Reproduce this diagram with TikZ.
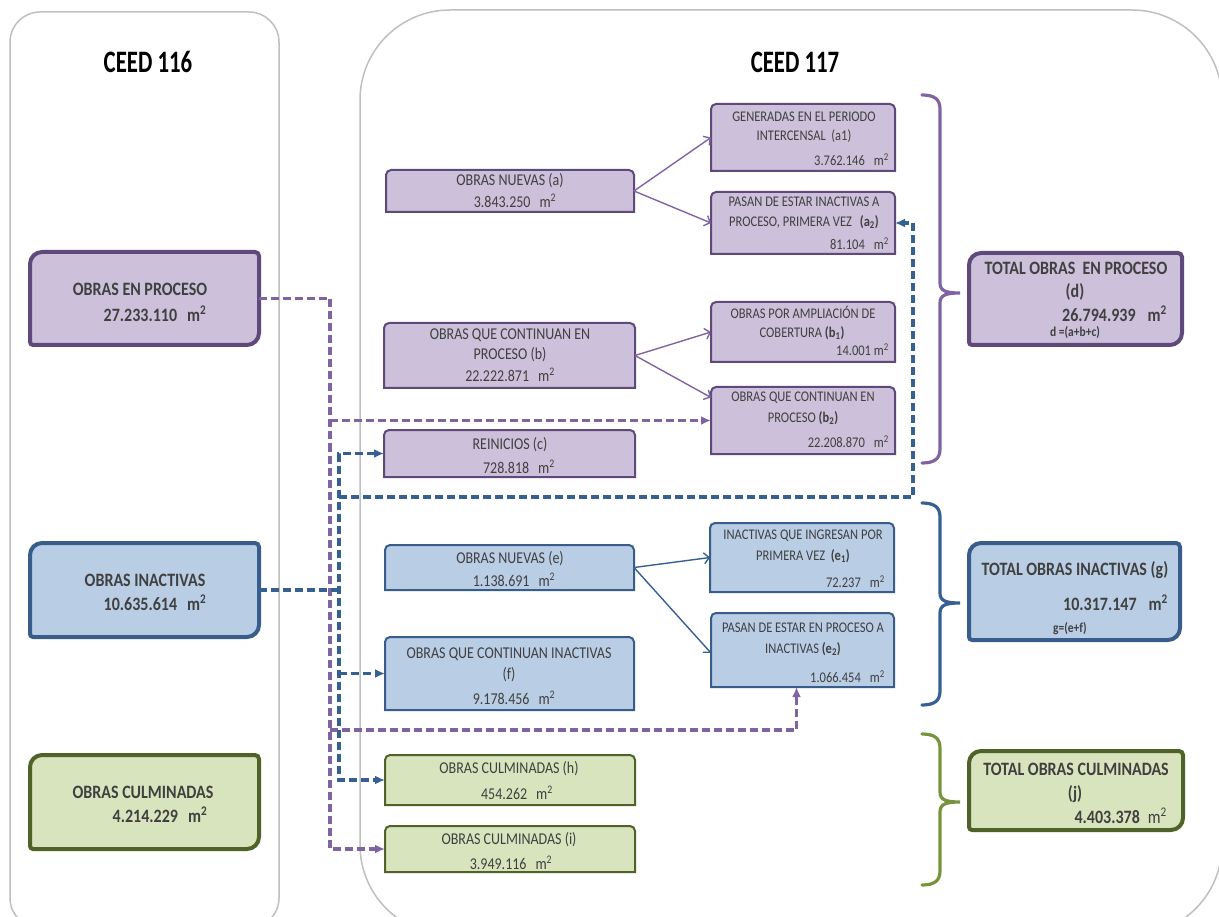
\documentclass[tikz,border=0pt]{standalone}
\usepackage{fontspec}
\setmainfont{Carlito}
\usetikzlibrary{arrows.meta,calc}
\definecolor{pfill}{HTML}{CCC0DA}
\definecolor{pline}{HTML}{5F497A}
\definecolor{pdash}{HTML}{8064A2}
\definecolor{bfill}{HTML}{B9CDE5}
\definecolor{bline}{HTML}{385D8A}
\definecolor{bdash}{HTML}{376092}
\definecolor{gfill}{HTML}{D7E4BD}
\definecolor{gline}{HTML}{4F6228}
\definecolor{gbrace}{HTML}{77933C}
\definecolor{panelc}{HTML}{BFBFBF}
\definecolor{txtc}{HTML}{404040}
\newcommand{\rbox}[6]{%
 \path[#6] let \p1=(#1.north west), \p2=(#1.south east) in
 (\x1+#2,\y1) -- (\x2-#3,\y1)
 .. controls (\x2-0.45*#3,\y1) and (\x2,\y1-0.45*#3) .. (\x2,\y1-#3)
 -- (\x2,\y2+#4)
 .. controls (\x2,\y2+0.45*#4) and (\x2-0.45*#4,\y2) .. (\x2-#4,\y2)
 -- (\x1+#5,\y2)
 .. controls (\x1+0.45*#5,\y2) and (\x1,\y2+0.45*#5) .. (\x1,\y2+#5)
 -- (\x1,\y1-#2)
 .. controls (\x1,\y1-0.45*#2) and (\x1+0.45*#2,\y1) .. (\x1+#2,\y1) -- cycle;}
\newcommand{\mybrace}[4]{%
 \draw[#4, line width=3.2pt, line cap=round] (922,#1) .. controls (934,#1) and (940,{#1+4}) .. (940,{#1+14})
 -- (940,{#2-10}) .. controls (940,{#2-2}) and (946,#2) .. (960,#2)
 .. controls (946,#2) and (940,{#2+2}) .. (940,{#2+10})
 -- (940,{#3-14}) .. controls (940,{#3-4}) and (934,#3) .. (922,#3);}
\newcommand{\msq}{m\textsuperscript{2}}
\newcommand{\vst}[1]{\scalebox{1}[1.18]{#1}}
\newcommand{\vtt}[1]{\scalebox{0.95}[1.3]{#1}}
\begin{document}
\begin{tikzpicture}[x=1pt,y=-1pt,
  slot/.style={draw=none, inner sep=0pt, outer sep=0pt},
  bigP/.style={fill=pfill, draw=pline, line width=4pt},
  bigB/.style={fill=bfill, draw=bline, line width=4pt},
  bigG/.style={fill=gfill, draw=gline, line width=4pt},
  midP/.style={fill=pfill, draw=pline, line width=2pt},
  midB/.style={fill=bfill, draw=bline, line width=2pt},
  midG/.style={fill=gfill, draw=gline, line width=2pt},
  txt/.style={inner sep=0pt, text=txtc},
  fT/.style={font=\fontsize{24}{28}\selectfont\bfseries, text=black},
  fB/.style={font=\fontsize{16}{19}\selectfont\bfseries},
  fS/.style={font=\fontsize{11.5}{13}\selectfont\bfseries},
  fM/.style={font=\fontsize{14}{16}\selectfont},
  fR/.style={font=\fontsize{12.5}{15}\selectfont},
  dashP/.style={draw=pdash, line width=3.2pt, dash pattern=on 8pt off 4pt},
  dashB/.style={draw=bdash, line width=3.2pt, dash pattern=on 8pt off 4pt},
  tipD/.tip={Latex[length=10pt,width=9pt]},
  solP/.style={draw=pdash, line width=1.4pt, -{Straight Barb[length=5pt,width=11pt]}},
  solB/.style={draw=bdash, line width=1.4pt, -{Straight Barb[length=5pt,width=11pt]}}
]
\useasboundingbox (0,0) rectangle (1219,917);
% panels
\begin{scope}
\clip (0,0) rectangle (1219,917);
\draw[panelc, line width=1.5pt, rounded corners=30pt] (10,12) rectangle (279,928);
\draw[panelc, line width=1.5pt, rounded corners=90pt] (360,10) rectangle (1222,935);
\end{scope}
\node[txt,fT] (t116) at (148,62) {\vtt{CEED 116}};
\node[txt,fT] (t117) at (795,62) {\vtt{CEED 117}};
% box slots
\node[slot, minimum width=229pt, minimum height=93pt] (ep) at (144.5,298.5) {};
\node[slot, minimum width=229pt, minimum height=94pt] (ei) at (144.5,590) {};
\node[slot, minimum width=229pt, minimum height=94pt] (oc) at (144.5,802) {};
\node[slot, minimum width=248pt, minimum height=42pt] (a) at (510,191) {};
\node[slot, minimum width=184pt, minimum height=67pt] (a1) at (803,137.5) {};
\node[slot, minimum width=184pt, minimum height=62pt] (a2) at (803,223) {};
\node[slot, minimum width=251pt, minimum height=65pt] (b) at (509.5,355.5) {};
\node[slot, minimum width=184pt, minimum height=60pt] (b1) at (803,332) {};
\node[slot, minimum width=184pt, minimum height=67pt] (b2) at (803,420.5) {};
\node[slot, minimum width=251pt, minimum height=47pt] (c) at (509.5,453.5) {};
\node[slot, minimum width=249pt, minimum height=45pt] (e) at (509.5,567.5) {};
\node[slot, minimum width=184pt, minimum height=69pt] (e1) at (802,557.5) {};
\node[slot, minimum width=183pt, minimum height=74pt] (e2) at (802.5,650) {};
\node[slot, minimum width=249pt, minimum height=73pt] (f) at (509.5,673.5) {};
\node[slot, minimum width=250pt, minimum height=50pt] (h) at (510,780) {};
\node[slot, minimum width=250pt, minimum height=46pt] (i) at (510,849) {};
\node[slot, minimum width=213pt, minimum height=92pt] (d) at (1075.5,299) {};
\node[slot, minimum width=211pt, minimum height=97pt] (g) at (1074.5,591.5) {};
\node[slot, minimum width=214pt, minimum height=79pt] (j) at (1076,790.5) {};
% box outlines
\rbox{ep}{12pt}{4pt}{12pt}{3pt}{bigP}
\rbox{ei}{12pt}{4pt}{12pt}{3pt}{bigB}
\rbox{oc}{12pt}{4pt}{12pt}{3pt}{bigG}
\rbox{d}{12pt}{4pt}{12pt}{3pt}{bigP}
\rbox{g}{12pt}{4pt}{12pt}{3pt}{bigB}
\rbox{j}{12pt}{4pt}{12pt}{3pt}{bigG}
\rbox{a}{5pt}{5pt}{0pt}{0pt}{midP}
\rbox{a1}{5pt}{5pt}{0pt}{0pt}{midP}
\rbox{a2}{5pt}{5pt}{0pt}{0pt}{midP}
\rbox{b}{5pt}{5pt}{0pt}{0pt}{midP}
\rbox{b1}{5pt}{5pt}{0pt}{0pt}{midP}
\rbox{b2}{5pt}{5pt}{0pt}{0pt}{midP}
\rbox{c}{5pt}{5pt}{0pt}{0pt}{midP}
\rbox{e}{5pt}{5pt}{0pt}{0pt}{midB}
\rbox{e1}{5pt}{5pt}{0pt}{0pt}{midB}
\rbox{e2}{5pt}{5pt}{0pt}{0pt}{midB}
\rbox{f}{5pt}{5pt}{0pt}{0pt}{midB}
\rbox{h}{5pt}{5pt}{0pt}{0pt}{midG}
\rbox{i}{5pt}{5pt}{0pt}{0pt}{midG}
% junction coordinates
\coordinate (jP) at (330,0);
\coordinate (jB) at (339,0);
\coordinate (kP) at (330,730);
\coordinate (qB) at (913,497);
% dashed connectors
\draw[dashP,-tipD] (ep.east) -| (jP |- i.west) -- (i.west);
\draw[dashP,-tipD] (jP |- b2.west) -- (b2.west);
\draw[dashP,-tipD] (kP) -| ([xshift=-6pt]e2.south);
\draw[dashB] (ei.east) -- (ei.east -| jB);
\draw[dashB,tipD-tipD] (c.west) -| (jB |- h.west) -- (h.west);
\draw[dashB,-tipD] (jB |- f.west) -- (f.west);
\draw[dashB,-tipD] (jB |- qB) -- (qB) |- (a2.east);
% solid arrows
\draw[solP] (a.east) -- (a1.west);
\draw[solP] (a.east) -- (a2.west);
\draw[solP] (b.east) -- (b1.west);
\draw[solP] (b.east) -- ([yshift=23pt]b2.west);
\draw[solB] (e.east) -- (e1.west);
\draw[solB] (e.east) -- ([yshift=-3pt]e2.west);
% braces
\mybrace{95}{293}{463}{pdash}
\mybrace{503}{603}{705}{bdash}
\mybrace{734}{802}{885}{gbrace}
% texts
\node[txt,fB] (ep-1) at (140,289) {\vst{OBRAS EN PROCESO}};
\node[txt,fB] (ep-2) at (155,314) {\vst{27.233.110\hspace{10pt}\msq}};
\node[txt,fB] (ei-1) at (145,580) {\vst{OBRAS INACTIVAS}};
\node[txt,fB] (ei-2) at (155,603) {\vst{10.635.614\hspace{10pt}\msq}};
\node[txt,fB] (oc-1) at (143,792) {\vst{OBRAS CULMINADAS}};
\node[txt,fB] (oc-2) at (160,815) {\vst{4.214.229\hspace{10pt}\msq}};
\node[txt,fM] (a-1) at (510,181) {\vst{OBRAS NUEVAS (a)}};
\node[txt,fM] (a-2) at (515,201) {\vst{3.843.250\hspace{9pt}\msq}};
\node[txt,fR] (a1-1) at (804,117) {\vst{GENERADAS EN EL PERIODO}};
\node[txt,fR] (a1-2) at (804,136) {\vst{INTERCENSAL\ \ (a1)}};
\node[txt,fR,anchor=east] (a1-3) at (889,160) {\vst{3.762.146\hspace{9pt}\msq}};
\node[txt,fR] (a2-1) at (804,202) {\vst{PASAN DE ESTAR INACTIVAS A}};
\node[txt,fR] (a2-2) at (804,222) {\vst{PROCESO, PRIMERA VEZ\hspace{8pt}\textbf{(a\textsubscript{2})}}};
\node[txt,fR,anchor=east] (a2-3) at (889,244) {\vst{81.104\hspace{9pt}\msq}};
\node[txt,fM] (b-1) at (510,335) {\vst{OBRAS QUE CONTINUAN EN}};
\node[txt,fM] (b-2) at (510,355) {\vst{PROCESO (b)}};
\node[txt,fM] (b-3) at (510,375) {\vst{22.222.871\hspace{9pt}\msq}};
\node[txt,fR] (b1-1) at (803,312) {\vst{OBRAS POR AMPLIACIÓN DE}};
\node[txt,fR] (b1-2) at (802,333) {\vst{COBERTURA \textbf{(b\textsubscript{1})}}};
\node[txt,fR,anchor=east] (b1-3) at (889,350) {\vst{14.001 \msq}};
\node[txt,fR] (b2-1) at (803,398) {\vst{OBRAS QUE CONTINUAN EN}};
\node[txt,fR] (b2-2) at (803,418) {\vst{PROCESO \textbf{(b\textsubscript{2})}}};
\node[txt,fR,anchor=east] (b2-3) at (889,442) {\vst{22.208.870\hspace{9pt}\msq}};
\node[txt,fM] (c-1) at (510,445) {\vst{REINICIOS (c)}};
\node[txt,fM] (c-2) at (519,467) {\vst{728.818\hspace{9pt}\msq}};
\node[txt,fM] (e-1) at (510,559) {\vst{OBRAS NUEVAS (e)}};
\node[txt,fM] (e-2) at (514,580) {\vst{1.138.691\hspace{9pt}\msq}};
\node[txt,fR] (e1-1) at (803,536) {\vst{INACTIVAS QUE INGRESAN POR}};
\node[txt,fR] (e1-2) at (803,556) {\vst{PRIMERA VEZ\ \ \textbf{(e\textsubscript{1})}}};
\node[txt,fR,anchor=east] (e1-3) at (885,582) {\vst{72.237\hspace{9pt}\msq}};
\node[txt,fR] (e2-1) at (803,628) {\vst{PASAN DE ESTAR EN PROCESO A}};
\node[txt,fR] (e2-2) at (803,649) {\vst{INACTIVAS \textbf{(e\textsubscript{2})}}};
\node[txt,fR,anchor=east] (e2-3) at (885,677) {\vst{1.066.454\hspace{9pt}\msq}};
\node[txt,fM] (f-1) at (509,654) {\vst{OBRAS QUE CONTINUAN INACTIVAS}};
\node[txt,fM] (f-2) at (509,675) {\vst{(f)}};
\node[txt,fM] (f-3) at (514,698) {\vst{9.178.456\hspace{9pt}\msq}};
\node[txt,fM] (h-1) at (509,769) {\vst{OBRAS CULMINADAS (h)}};
\node[txt,fM] (h-2) at (517,793) {\vst{454.262\hspace{9pt}\msq}};
\node[txt,fM] (i-1) at (509,840) {\vst{OBRAS CULMINADAS (i)}};
\node[txt,fM] (i-2) at (511,863) {\vst{3.949.116\hspace{9pt}\msq}};
\node[txt,fB] (d-1) at (1076,268) {\vst{TOTAL OBRAS\ \ EN PROCESO}};
\node[txt,fB] (d-2) at (1075,292) {\vst{(d)}};
\node[txt,fB,anchor=east] (d-3) at (1167,314) {\vst{26.794.939\hspace{12pt}\msq}};
\node[txt,fS] (d-4) at (1075,332) {\vst{d =(a+b+c)}};
\node[txt,fB] (g-1) at (1075,570) {\vst{TOTAL OBRAS INACTIVAS (g)}};
\node[txt,fB,anchor=east] (g-2) at (1168,603) {\vst{10.317.147\hspace{12pt}\msq}};
\node[txt,fS] (g-3) at (1070,629) {\vst{g=(e+f)}};
\node[txt,fB] (j-1) at (1076,769) {\vst{TOTAL OBRAS CULMINADAS}};
\node[txt,fB] (j-2) at (1075,794) {\vst{(j)}};
\node[txt,fB,anchor=east] (j-3) at (1167,816) {\vst{4.403.378\hspace{8pt}\mdseries\msq}};
\end{tikzpicture}
\end{document}
